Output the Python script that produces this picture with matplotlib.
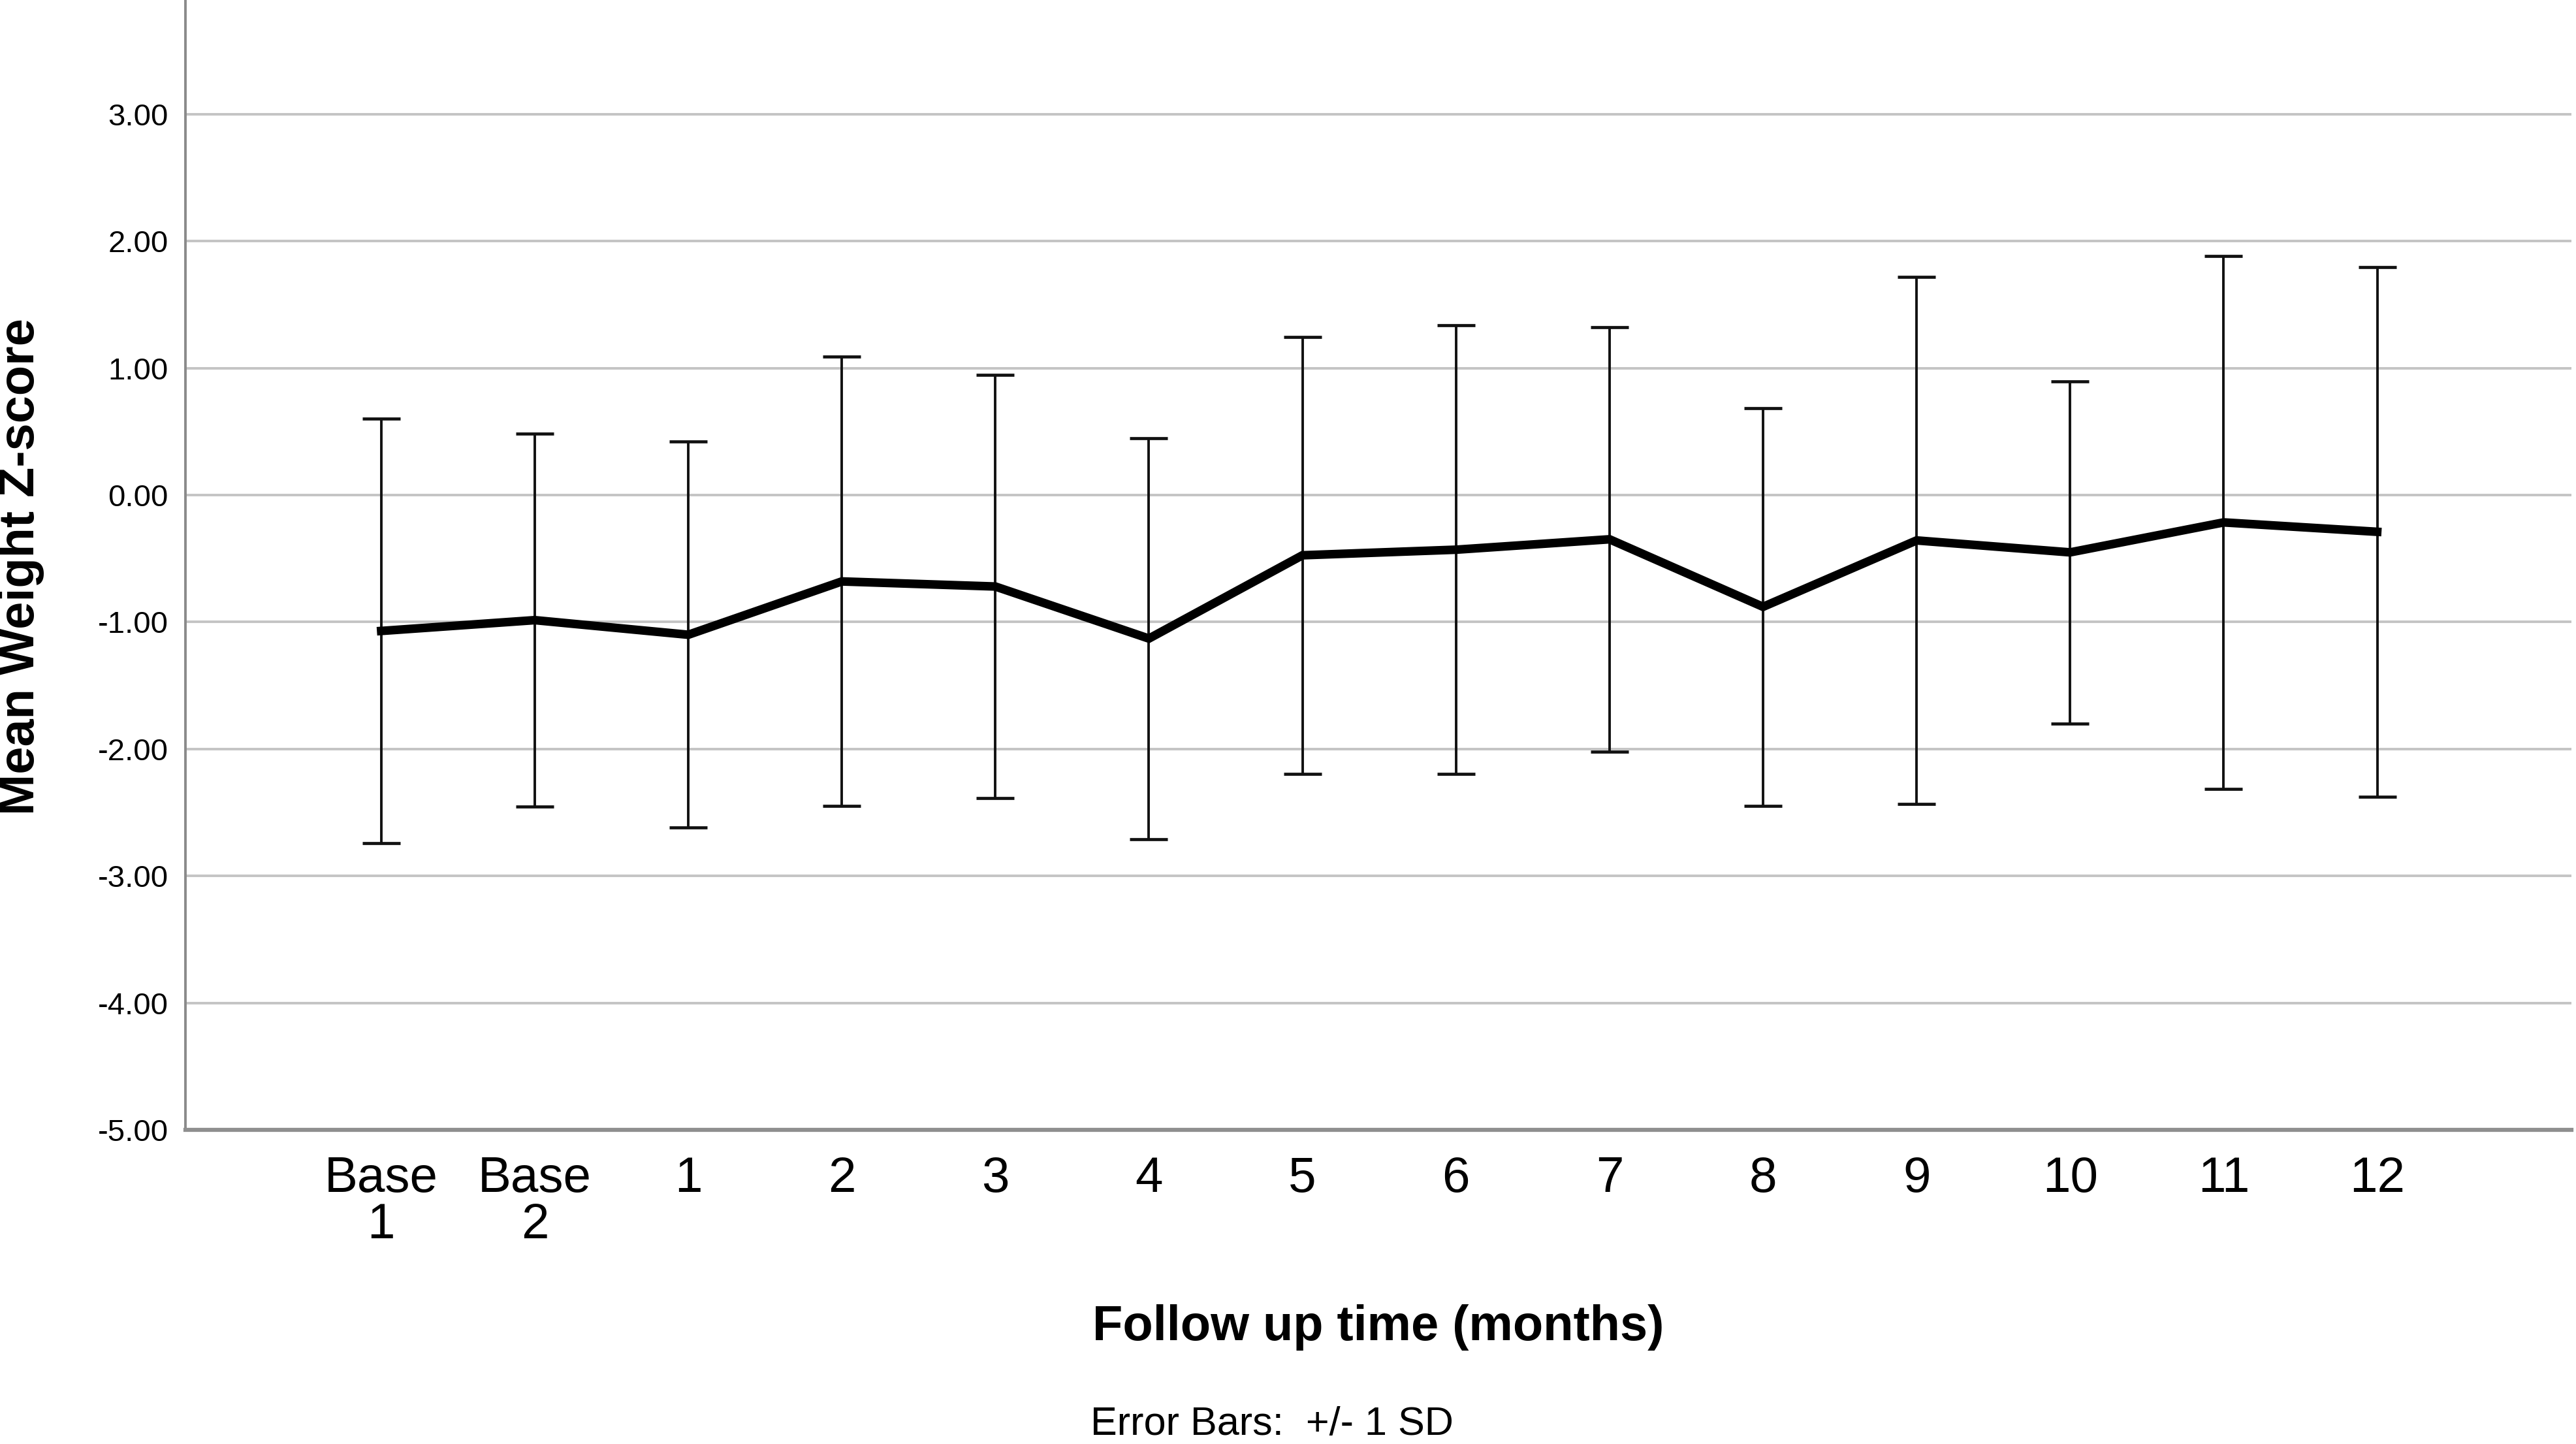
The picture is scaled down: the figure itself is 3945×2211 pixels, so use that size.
import matplotlib

matplotlib.use("Agg")
import matplotlib.pyplot as plt
import numpy as np

plt.rcParams["font.family"] = ["Liberation Sans", "DejaVu Sans"]
plt.rcParams["axes.unicode_minus"] = False

TIME_LABELS = ["Base\n1", "Base\n2", "1", "2", "3", "4", "5", "6", "7", "8", "9", "10", "11", "12"]
MEAN_Z = [-1.07, -0.985, -1.10, -0.68, -0.72, -1.13, -0.474, -0.43, -0.348, -0.88, -0.357, -0.451, -0.215, -0.289]
SD_Z = [1.67, 1.47, 1.52, 1.77, 1.665, 1.58, 1.72, 1.766, 1.672, 1.567, 2.074, 1.349, 2.10, 2.086]
Y_TICKS = [3.0, 2.0, 1.0, 0.0, -1.0, -2.0, -3.0, -4.0, -5.0]

W, H = 3945, 2211
fig = plt.figure(figsize=(W / 100, H / 100), dpi=100)
ax = fig.add_axes([284 / W, 1 - 1730 / H, (3938 - 284) / W, 1730 / H])

x = np.arange(len(TIME_LABELS))
ax.errorbar(x, MEAN_Z, yerr=SD_Z, fmt="none", ecolor="#111111", elinewidth=2.8,
            capsize=21, capthick=3.4, zorder=3)
ax.plot(x, MEAN_Z, color="black", linewidth=9.5, solid_joinstyle="miter", zorder=4)

ax.set_xlim(-1.275, 14.265)
ax.set_ylim(-5, 3.9)
ax.set_yticks(Y_TICKS)
ax.set_yticklabels([f"{v:.2f}" for v in Y_TICKS])
ax.set_xticks(x)
ax.set_xticklabels(TIME_LABELS, linespacing=1.0)
ax.tick_params(axis="y", length=0, pad=19, labelsize=34)
ax.tick_params(axis="x", length=0, pad=29, labelsize=55)

for v in Y_TICKS[:-1]:
    ax.axhline(v, color="#c4c4c4", linewidth=2.8, zorder=1)

for side in ["top", "right"]:
    ax.spines[side].set_visible(False)
ax.spines["left"].set_color("#8a8a8a")
ax.spines["left"].set_linewidth(2.8)
ax.spines["bottom"].set_color("#8f8f8f")
ax.spines["bottom"].set_linewidth(4.5)

fig.text(33 / W, 1 - 868 / H, "Mean Weight Z-score", rotation=90, ha="center", va="center",
         fontsize=54.5, fontweight="bold")
fig.text(2111 / W, 1 - 2033 / H, "Follow up time (months)", ha="center", va="center",
         fontsize=54.5, fontweight="bold")
fig.text(1948 / W, 1 - 2181 / H, "Error Bars:  +/- 1 SD", ha="center", va="center", fontsize=44)

fig.savefig("out.png", dpi=100, facecolor="white")
